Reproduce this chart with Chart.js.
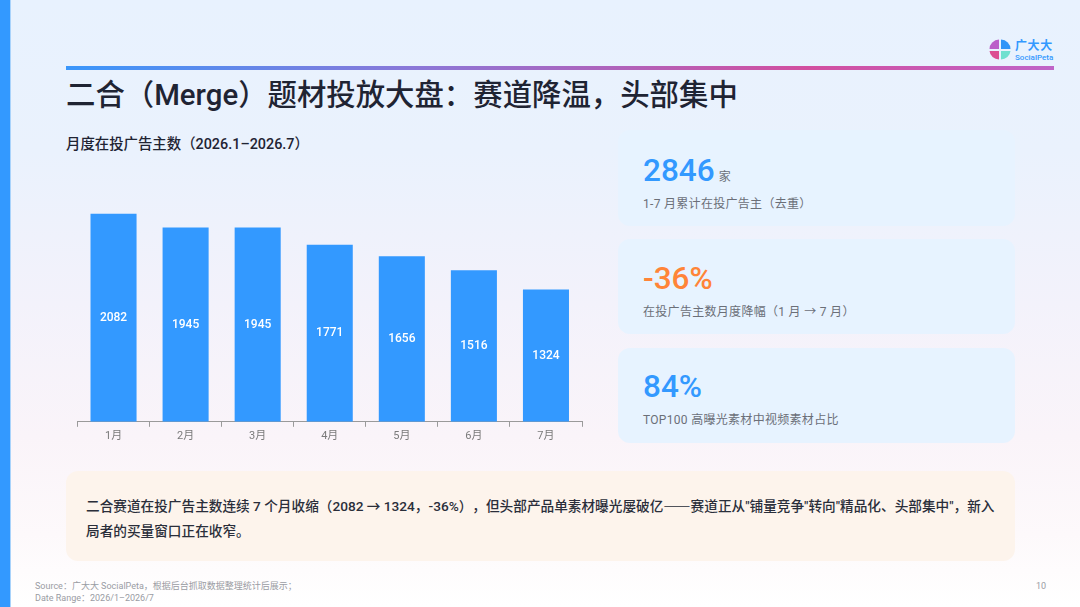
<!DOCTYPE html>
<html lang="zh"><head><meta charset="utf-8">
<script src="https://cdn.jsdelivr.net/npm/chart.js@4"></script>
<style>
html,body{margin:0;padding:0}
body{width:1080px;height:607px;position:relative;overflow:hidden;background:linear-gradient(180deg,#e8f2fe 0%,#eaf2fd 25%,#f3f2fb 50%,#faf4f9 72%,#fdf9fb 88%,#ffffff 100%);font-family:Roboto,"Noto Sans CJK SC",sans-serif;color:#1f2433;text-spacing-trim:space-all}
.a{position:absolute;white-space:nowrap}
#side{left:0;top:0;width:10px;height:607px;background:#3399ff;border-right:1px solid #a9d3fb}
#rule{left:66px;top:66px;width:988px;height:4px;background:linear-gradient(90deg,#3a97fb 0%,#8a78d8 35%,#d24f9f 75%,#bf64c8 100%)}
#title{left:66px;top:74px;font-size:29.4px;line-height:42px;font-weight:500}
#sub{left:66px;top:135px;font-size:14.4px;line-height:20px;font-weight:500}
.card{position:absolute;left:618px;width:397px;border-radius:12px;background:#e7f3ff}
.num{left:643px;font-size:31.5px;line-height:40px;font-weight:500}
.lab{left:643px;font-size:12px;line-height:18px;color:#6b6f78;letter-spacing:.3px}
#note{left:66px;top:471px;width:949px;height:90px;border-radius:12px;background:#fdf4ec}
#notet{left:86px;top:493px;width:915px;font-size:13.65px;line-height:25px;font-weight:500;white-space:normal;color:#2a2e3a}
#src{left:35px;top:580px;font-size:9px;line-height:12px;color:#9a9ca3}
#pg{left:1036px;top:580px;font-size:9px;line-height:12px;color:#9a9ca3}
#lg1{left:1015px;top:39px;font-size:12px;line-height:14px;font-weight:700;color:#3399ff;letter-spacing:.6px}
#lg2{left:1015px;top:53px;font-size:8px;line-height:9px;font-weight:500;color:#3399ff}
#wrap{position:absolute;left:57px;top:172px;width:545px;height:274px}
.cjk{font-family:"Noto Sans CJK SC";font-weight:700}
</style></head><body>
<div class="a" id="side"></div>
<div class="a" id="rule"></div>
<svg class="a" style="left:989px;top:39px" width="22" height="21" viewBox="0 0 22 21">
<path d="M10 0.5V10H0.5A10 9.5 0 0 1 10 0.5Z" fill="#bb5ec9"/>
<path d="M12 0.5A10 9.5 0 0 1 21.5 10H12Z" fill="#2f95f8"/>
<path d="M0.5 12H10V20.5A10 9.5 0 0 1 0.5 12Z" fill="#dc4f92"/>
<path d="M12 12H21.5A10 9.5 0 0 1 12 20.5Z" fill="#6fe0d0"/>
</svg>
<div class="a" id="lg1">广大大</div>
<div class="a" id="lg2">SocialPeta</div>
<div class="a" id="title">二合（Merge）题材投放大盘：赛道降温，头部集中</div>
<div class="a" id="sub">月度在投广告主数（2026.1–2026.7）</div>
<div id="wrap"><canvas id="c" width="545" height="274"></canvas></div>
<div class="card" style="top:130px;height:96px"></div>
<div class="card" style="top:239px;height:95px"></div>
<div class="card" style="top:348px;height:95px"></div>
<div class="a num" style="top:151px;color:#3399ff">2846<span style="font-size:12px;color:#6b6f78;font-weight:400;margin-left:4px">家</span></div>
<div class="a lab" style="top:195px">1-7 月累计在投广告主（去重）</div>
<div class="a num" style="top:259px;color:#ff8438">-36%</div>
<div class="a lab" style="top:303px">在投广告主数月度降幅（1 月 → 7 月）</div>
<div class="a num" style="top:367px;color:#3399ff">84%</div>
<div class="a lab" style="top:411px">TOP100 高曝光素材中视频素材占比</div>
<div class="a" id="note"></div>
<div class="a" id="notet">二合赛道在投广告主数连续 7 个月收缩（2082 → 1324，-36%），但头部产品单素材曝光屡破亿<span class="cjk">——</span>赛道正从"铺量竞争"转向"精品化、头部集中"，新入局者的买量窗口正在收窄。</div>
<div class="a" id="src">Source：广大大 SocialPeta，根据后台抓取数据整理统计后展示；<br>Date Range：2026/1–2026/7</div>
<div class="a" id="pg">10</div>
<script>
const months=["1月","2月","3月","4月","5月","6月","7月"];
const advertisers=[2082,1945,1945,1771,1656,1516,1324];
const FONT='Roboto,"Noto Sans CJK SC",sans-serif';
const valueLabels={id:"valueLabels",afterDatasetsDraw(chart){
  const ctx=chart.ctx;ctx.save();
  ctx.font="500 12px "+FONT;ctx.fillStyle="#fff";ctx.textAlign="center";ctx.textBaseline="middle";
  chart.getDatasetMeta(0).data.forEach((b,i)=>{
    ctx.fillText(String(advertisers[i]),b.x,(b.y+b.base)/2);
  });
  ctx.restore();
}};
new Chart(document.getElementById("c"),{
  type:"bar",
  data:{labels:months,datasets:[{data:advertisers,backgroundColor:"#3399ff",barPercentage:1,categoryPercentage:46/72}]},
  plugins:[valueLabels],
  options:{
    responsive:false,animation:false,devicePixelRatio:1,
    layout:{padding:{left:20.5,right:20,top:0,bottom:0}},
    plugins:{legend:{display:false},tooltip:{enabled:false},title:{display:false}},
    scales:{
      y:{display:false,min:0,max:2500},
      x:{offset:true,
        border:{display:true,color:"#9a9a9a",width:1},
        grid:{display:true,drawOnChartArea:false,drawTicks:true,tickLength:5,tickColor:"#9a9a9a",offset:true},
        ticks:{color:"#7a7a7a",font:{size:11,family:FONT},padding:3,maxRotation:0}}
    }
  }
});
</script>
</body></html>
